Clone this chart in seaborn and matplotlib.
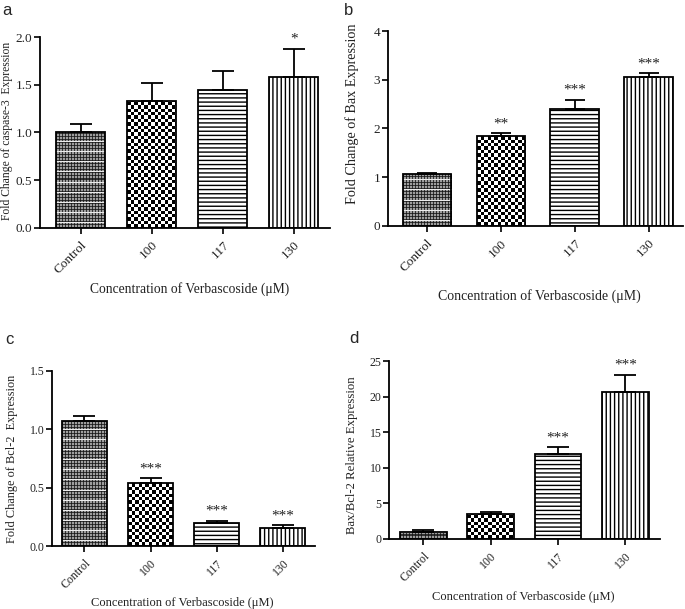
import numpy as np
import pandas as pd
import matplotlib
matplotlib.use("Agg")
import matplotlib.pyplot as plt
import seaborn as sns

# ---------------- data ----------------
categories = ["Control", "100", "117", "130"]

casp3_mean = [1.01, 1.33, 1.45, 1.58]
casp3_err = [0.08, 0.19, 0.20, 0.30]
casp3_sig = ["", "", "", "*"]

bax_mean = [1.07, 1.85, 2.39, 3.05]
bax_err = [0.02, 0.05, 0.20, 0.08]
bax_sig = ["", "**", "***", "***"]

bcl2_mean = [1.07, 0.54, 0.20, 0.155]
bcl2_err = [0.04, 0.04, 0.02, 0.025]
bcl2_sig = ["", "***", "***", "***"]

ratio_mean = [1.0, 3.5, 12.0, 20.6]
ratio_err = [0.2, 0.3, 0.9, 2.5]
ratio_sig = ["", "", "***", "***"]

xlabel_text = "Concentration of Verbascoside (\u03bcM)"

sns.set_style("ticks")
plt.rcParams["font.family"] = ["Liberation Serif", "DejaVu Serif"]
plt.rcParams["hatch.linewidth"] = 1.0

fig = plt.figure(figsize=(6.85, 6.09), dpi=100)


def texture(ax, patch, kind):
    x0, y0 = patch.get_x(), patch.get_y()
    w, h = patch.get_width(), patch.get_height()
    px0, py0 = ax.transData.transform((x0, y0))
    px1, py1 = ax.transData.transform((x0 + w, y0 + h))
    W = max(int(round(abs(px1 - px0))), 1)
    H = max(int(round(abs(py1 - py0))), 1)
    yy, xx = np.mgrid[0:H, 0:W]
    if kind == "checker":
        s = 3.4
        arr = ((np.floor(xx / s) + np.floor(yy / s)) % 2).astype(float)
    else:
        arr = np.full((H, W), 0.62)
        arr[(xx % 3) == 0] = 0.2
        arr[(yy % 3) == 0] = 0.2
        arr[((xx % 3) == 0) & ((yy % 3) == 0)] = 0.1
        arr[(yy % 10) == 5] = 0.92
    im = ax.imshow(arr, cmap="gray", vmin=0, vmax=1,
                   extent=(x0, x0 + w, y0, y0 + h), origin="lower",
                   aspect="auto", interpolation="nearest", zorder=0.9)
    im.set_clip_path(patch)
    patch.set_facecolor("none")


def panel(rect, means, errs, sigs, ylim, yticks, yfmt, xlim, width, ylabel,
          fs_tick, fs_ylab, fs_xlab, ylab_xy, xlab_xy, capsize):
    ax = fig.add_axes(rect)
    df = pd.DataFrame({"cat": categories, "val": means})
    sns.barplot(data=df, x="cat", y="val", order=categories, ax=ax,
                color="white", saturation=1, edgecolor="black",
                linewidth=1.3, width=width, errorbar=None)
    ax.set_xlim(*xlim)
    ax.set_ylim(*ylim)
    x = np.arange(len(categories))
    ax.errorbar(x, means, yerr=[np.zeros(len(errs)), errs], fmt="none",
                ecolor="black", elinewidth=1.3, capsize=capsize,
                capthick=1.3, zorder=3)
    yr = ylim[1] - ylim[0]
    for xi, m, e, s in zip(x, means, errs, sigs):
        if s:
            ax.text(xi, m + e + 0.015 * yr, s, ha="center", va="bottom",
                    fontsize=11, clip_on=False, color="#222222")
    patches = list(ax.patches)
    texture(ax, patches[0], "control")
    texture(ax, patches[1], "checker")
    patches[2].set_hatch("----")
    patches[3].set_hatch("||||")
    ax.set_xlim(*xlim)
    ax.set_ylim(*ylim)
    ax.set_yticks(yticks)
    ax.set_yticklabels([yfmt.format(v) for v in yticks], fontsize=fs_tick)
    ax.set_xticks(x)
    ax.set_xticklabels(categories, rotation=45, ha="right",
                       rotation_mode="anchor", fontsize=fs_tick)
    ax.tick_params(axis="both", direction="out", length=4, width=1.2,
                   color="black", labelcolor="#222222")
    ax.tick_params(axis="y", pad=1.5)
    ax.tick_params(axis="x", pad=4)
    for sp in ["top", "right"]:
        ax.spines[sp].set_visible(False)
    for sp in ["left", "bottom"]:
        ax.spines[sp].set_linewidth(1.3)
        ax.spines[sp].set_color("black")
    ax.set_xlabel(xlabel_text, fontsize=fs_xlab, color="#222222")
    ax.set_ylabel(ylabel, fontsize=fs_ylab, color="#222222")
    ax.yaxis.set_label_coords(*ylab_xy)
    ax.xaxis.set_label_coords(*xlab_xy)
    return ax


panel([0.058, 0.626, 0.424, 0.313], casp3_mean, casp3_err, casp3_sig,
      (0, 2.0), [0, 0.5, 1.0, 1.5, 2.0], "{:.1f}", (-0.58, 3.51), 0.69,
      "Fold Change of caspase-3  Expression", 9.5, 8.4, 9.8,
      (-0.093, 0.51), (0.517, -0.283), 8)
panel([0.566, 0.629, 0.431, 0.320], bax_mean, bax_err, bax_sig,
      (0, 4), [0, 1, 2, 3, 4], "{:d}", (-0.53, 3.46), 0.66,
      "Fold Change of Bax Expression", 9.5, 10.2, 10,
      (-0.098, 0.575), (0.514, -0.323), 7)
panel([0.076, 0.103, 0.384, 0.288], bcl2_mean, bcl2_err, bcl2_sig,
      (0, 1.5), [0, 0.5, 1.0, 1.5], "{:.1f}", (-0.49, 3.49), 0.68,
      "Fold Change of Bcl-2  Expression", 8.5, 8.8, 9,
      (-0.129, 0.50), (0.494, -0.291), 8)
panel([0.568, 0.115, 0.396, 0.292], ratio_mean, ratio_err, ratio_sig,
      (0, 25), [0, 5, 10, 15, 20, 25], "{:d}", (-0.51, 3.52), 0.69,
      "Bax/Bcl-2 Relative Expression", 8.5, 9.2, 9,
      (-0.114, 0.47), (0.494, -0.292), 8)

for txt, xx, yy in [("a", 0.004, 0.995), ("b", 0.502, 0.995),
                    ("c", 0.007, 0.455), ("d", 0.510, 0.457)]:
    fig.text(xx, yy, txt, fontsize=12, va="top", ha="left",
             family=["Liberation Sans", "DejaVu Sans"])

fig.savefig("out.png", dpi=100)
